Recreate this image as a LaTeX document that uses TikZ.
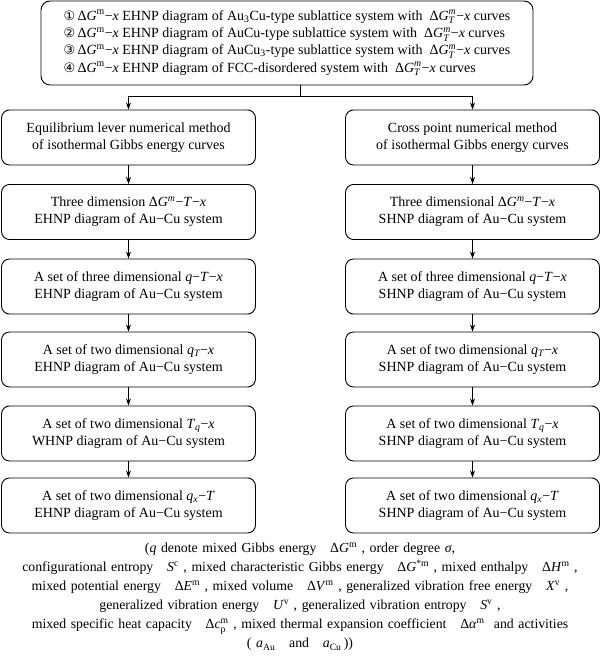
\documentclass[tikz,border=0pt]{standalone}
\usepackage{amsmath}
\usepackage{fontspec}
\setmainfont{Liberation Serif}
\newfontfamily\circfont{DejaVu Sans}
\usetikzlibrary{arrows.meta}
\newcommand{\iv}[1]{\textit{#1}}
\newcommand{\GTm}{\iv{G}$^{\text{\itshape m}}_{\text{\itshape T}}$}
\newcommand{\cnum}[1]{{\circfont\fontsize{13}{17}\selectfont #1}}
\newcommand{\sub}[1]{$_{\text{#1}}$}
\newcommand{\sups}[1]{$^{\text{#1}}$}
\newcommand{\wsp}{\spaceskip=4.6pt plus 1pt minus 1pt\relax}
\tikzset{
  box/.style={draw, rounded corners=8pt, minimum width=254pt, minimum height=55pt,
    align=center, font=\fontsize{14}{17}\selectfont, inner sep=0pt, line width=0.9pt},
  topbox/.style={draw, rounded corners=9pt, minimum width=492pt, minimum height=84pt,
    align=left, font=\fontsize{14}{17.3}\selectfont, inner sep=0pt, line width=0.9pt},
  arr/.style={-{Stealth[length=7pt,width=5pt]}, line width=0.8pt},
  ln/.style={line width=0.8pt},
  captxt/.style={align=center, font=\fontsize{13.8}{19}\selectfont, inner sep=0pt}
}
\begin{document}
\begin{tikzpicture}[x=1pt,y=-1pt]
\useasboundingbox (0,0) rectangle (600,668);

\node[topbox] (top) at (287,43) {%
\cnum{①}\,Δ\iv{G}\sups{m}−\iv{x} EHNP diagram of Au\sub{3}Cu-type sublattice system with \ Δ\GTm−\iv{x} curves\\
\cnum{②}\,Δ\iv{G}\sups{m}−\iv{x} EHNP diagram of AuCu-type sublattice system with \ Δ\GTm−\iv{x} curves\\
\cnum{③}\,Δ\iv{G}\sups{m}−\iv{x} EHNP diagram of AuCu\sub{3}-type sublattice system with \ Δ\GTm−\iv{x} curves\\
\cnum{④}\,Δ\iv{G}\sups{m}−\iv{x} EHNP diagram of FCC-disordered system with \ Δ\GTm−\iv{x} curves};

\node[box] (L1) at (128.5,137.5) {Equilibrium lever numerical method\\of isothermal Gibbs energy curves};
\node[box] (L2) at (128.5,212) {Three dimension Δ\iv{G}$^{\text{\itshape m}}$−\iv{T}−\iv{x}\\EHNP diagram of Au−Cu system};
\node[box] (L3) at (128.5,286.5) {A set of three dimensional \iv{q}−\iv{T}−\iv{x}\\EHNP diagram of Au−Cu system};
\node[box] (L4) at (128.5,359.5) {A set of two dimensional \iv{q}$_{\text{\itshape T}}$−\iv{x}\\EHNP diagram of Au−Cu system};
\node[box] (L5) at (128.5,433.5) {A set of two dimensional \iv{T}$_{\text{\itshape q}}$−\iv{x}\\WHNP diagram of Au−Cu system};
\node[box] (L6) at (128.5,505.5) {A set of two dimensional \iv{q}$_{\text{\itshape x}}$−\iv{T}\\EHNP diagram of Au−Cu system};

\node[box] (R1) at (472.5,137.5) {Cross point numerical method\\of isothermal Gibbs energy curves};
\node[box] (R2) at (472.5,212) {Three dimensional Δ\iv{G}$^{\text{\itshape m}}$−\iv{T}−\iv{x}\\SHNP diagram of Au−Cu system};
\node[box] (R3) at (472.5,286.5) {A set of three dimensional \iv{q}−\iv{T}−\iv{x}\\SHNP diagram of Au−Cu system};
\node[box] (R4) at (472.5,359.5) {A set of two dimensional \iv{q}$_{\text{\itshape T}}$−\iv{x}\\SHNP diagram of Au−Cu system};
\node[box] (R5) at (472.5,433.5) {A set of two dimensional \iv{T}$_{\text{\itshape q}}$−\iv{x}\\SHNP diagram of Au−Cu system};
\node[box] (R6) at (472.5,505.5) {A set of two dimensional \iv{q}$_{\text{\itshape x}}$−\iv{T}\\SHNP diagram of Au−Cu system};

\coordinate (tj) at (300,96);
\draw[ln] (top.south -| tj) -- (tj);
\draw[arr] (tj) -| (L1.north);
\draw[arr] (tj) -| (R1.north);
\foreach \a/\b in {1/2,2/3,3/4,4/5,5/6}{
  \draw[arr] (L\a) -- (L\b);
  \draw[arr] (R\a) -- (R\b);
}

\node[captxt] (cap) at (300,597) {%
\wsp(\iv{q} denote mixed Gibbs energy \ \ Δ\iv{G}\sups{m} , order degree \iv{σ},\\
\wsp configurational entropy \ \ \iv{S}\sups{c} , mixed characteristic Gibbs energy \ \ Δ\iv{G}\sups{*m} , mixed enthalpy \ \ Δ\iv{H}\sups{m} ,\\
\wsp mixed potential energy \ \ Δ\iv{E}\sups{m} , mixed volume \ \ Δ\iv{V}\sups{m} , generalized vibration free energy \ \ \iv{X}\sups{v} ,\\
\wsp generalized vibration energy \ \ \iv{U}\sups{v} , generalized vibration entropy \ \ \iv{S}\sups{v} ,\\
\wsp mixed specific heat capacity \ \ Δ\iv{c}$^{\text{m}}_{\text{p}}$ , mixed thermal expansion coefficient \ \ Δ\iv{α}\sups{m} \ and activities\\
\wsp(\ \iv{a}\sub{Au} \ \ and \ \ \iv{a}\sub{Cu}\,))};
\end{tikzpicture}
\end{document}
